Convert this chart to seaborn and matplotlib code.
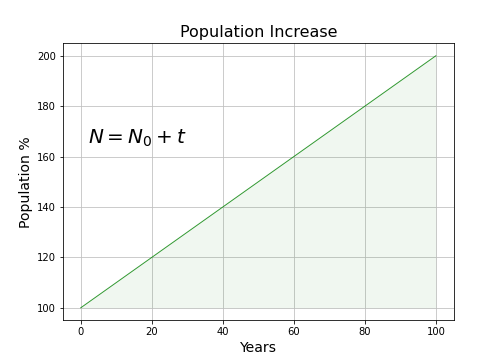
import matplotlib
matplotlib.use('Agg')
import matplotlib.pyplot as plt
import seaborn as sns
import pandas as pd

# population grows linearly from 100 to 200 over 100 years
years = [0, 100]
population = [100, 200]

df = pd.DataFrame({'Years': years, 'Population': population})

fig, ax = plt.subplots(figsize=(7, 5), dpi=72)
sns.lineplot(data=df, x='Years', y='Population', color='green', alpha=0.8, linewidth=1.0, ax=ax)
ax.fill_between(df['Years'], df['Population'], population[0], color='green', alpha=0.06, linewidth=0)
ax.grid(True, color='#c0c0c0', linewidth=0.8)
ax.set_axisbelow(True)
ax.set_title('Population Increase', fontsize=16)
ax.set_xlabel('Years', fontsize=14)
ax.set_ylabel('Population %', fontsize=14)
ax.text(2, 165, r'$N = N_0 + t$', fontsize=20)
fig.savefig('out.png', dpi=72)
